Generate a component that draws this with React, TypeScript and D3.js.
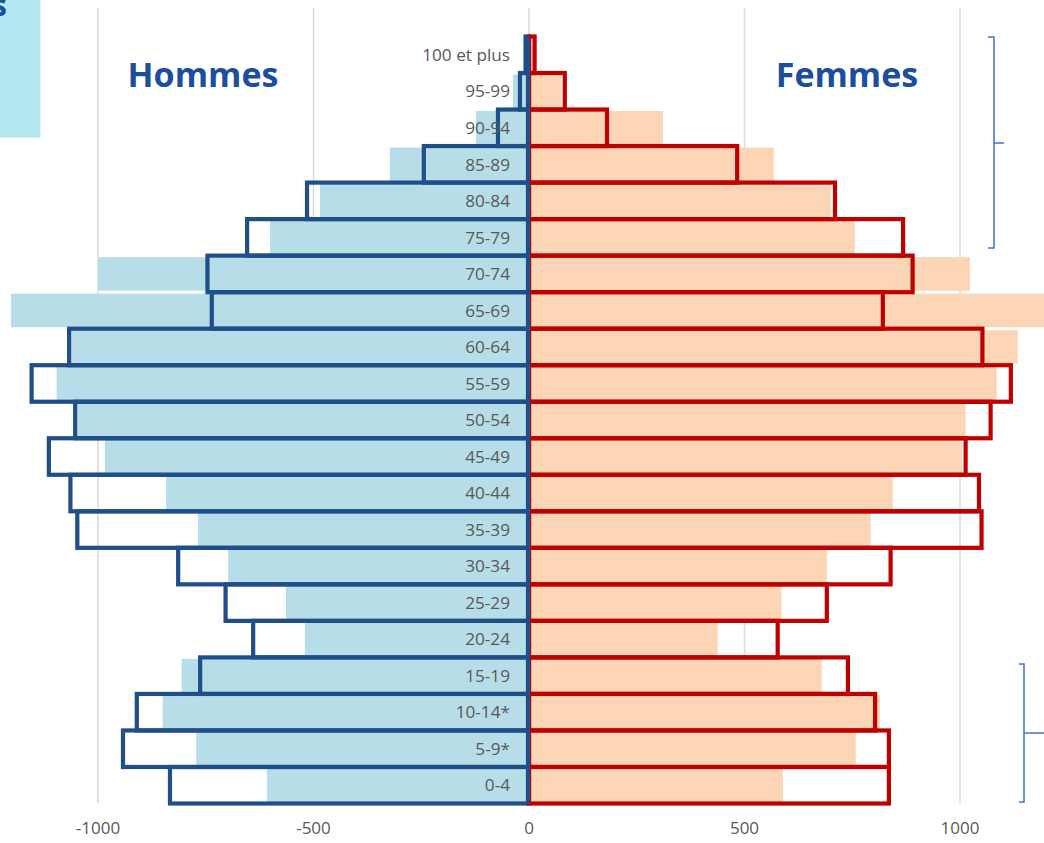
import React from "react";
import * as d3 from "d3";

// Age groups, bottom to top
const ageGroups = [
  "0-4", "5-9*", "10-14*", "15-19", "20-24", "25-29", "30-34", "35-39", "40-44",
  "45-49", "50-54", "55-59", "60-64", "65-69", "70-74", "75-79", "80-84", "85-89",
  "90-94", "95-99", "100 et plus",
];

// Men – outlined bars (dark blue)
const menOutline = [833, 942, 910, 763, 640, 704, 814, 1048, 1064, 1114, 1053, 1154, 1067, 736, 746, 654, 515, 244, 72, 21, 8];
// Men – filled bars (light blue)
const menFill = [608, 772, 850, 806, 520, 564, 698, 768, 842, 984, 1048, 1096, 1062, 1202, 1000, 601, 485, 323, 123, 37, 4];
// Women – outlined bars (red)
const womenOutline = [835, 835, 803, 740, 577, 691, 839, 1050, 1044, 1013, 1071, 1118, 1052, 821, 890, 868, 710, 483, 181, 83, 13];
// Women – filled bars (peach)
const womenFill = [589, 758, 814, 679, 438, 586, 691, 793, 844, 1005, 1013, 1085, 1134, 1215, 1023, 756, 700, 568, 311, 75, 8];

const xTicks = [-1000, -500, 0, 500, 1000];

const W = 1044;
const H = 843;

export default function App() {
  const x = d3.scaleLinear().domain([-1000, 1000]).range([98, 960]);
  const topDown = [...ageGroups].reverse();
  const y = d3.scaleBand<string>().domain(topDown).range([36.5, 803.5]).padding(0);
  const bw = y.bandwidth();
  const x0 = x(0);

  const font = "'Open Sans', sans-serif";
  const blue = "#1F4E89";
  const red = "#C00000";
  const bracket = "#4472C4";

  return (
    <svg
      width={W}
      height={H}
      style={{ position: "absolute", left: 0, top: 0, background: "#fff" }}
    >
      <rect x={0} y={0} width={W} height={H} fill="#fff" />
      {/* top-left cyan box */}
      <rect x={0} y={0} width={40.5} height={137.5} fill="#B4E7EF" />
      <text x={7} y={16} textAnchor="end" fontFamily={font} fontWeight={700} fontSize={30} fill="#1C4E9C">s</text>

      {/* grid lines */}
      {xTicks.map((t) => (
        <line key={"g" + t} x1={x(t)} x2={x(t)} y1={8} y2={803} stroke="#D9D9D9" strokeWidth={1.5} />
      ))}

      {/* filled bars */}
      {ageGroups.map((a, i) => (
        <g key={"f" + a}>
          <rect x={x(-menFill[i])} y={(y(a) as number) + 1.5} width={x0 - x(-menFill[i])} height={bw - 3} fill="#B7DDE8" />
          <rect x={x0} y={(y(a) as number) + 1.5} width={x(womenFill[i]) - x0} height={bw - 3} fill="#FBD5B5" />
        </g>
      ))}

      {/* outlined bars */}
      {ageGroups.map((a, i) => (
        <g key={"o" + a}>
          <rect x={x(-menOutline[i])} y={y(a) as number} width={x0 - x(-menOutline[i])} height={bw} fill="none" stroke={blue} strokeWidth={4.2} />
          <rect x={x0} y={y(a) as number} width={x(womenOutline[i]) - x0} height={bw} fill="none" stroke={red} strokeWidth={4.2} />
        </g>
      ))}
      {/* central axis line */}
      <line x1={x0 - 1} x2={x0 - 1} y1={36.5} y2={803.5} stroke={blue} strokeWidth={4.2} />

      {/* age labels */}
      {ageGroups.map((a) => (
        <text key={"l" + a} x={510} y={(y(a) as number) + bw / 2} dy="0.36em" textAnchor="end" fontFamily={font} fontSize={17.2} fill="#595959">
          {a}
        </text>
      ))}

      {/* x tick labels */}
      {xTicks.map((t) => (
        <text key={"t" + t} x={x(t)} y={834} textAnchor="middle" fontFamily={font} fontSize={17} fill="#595959">
          {t}
        </text>
      ))}

      {/* titles */}
      <text x={203} y={87} textAnchor="middle" fontFamily={font} fontWeight={700} fontSize={34} fill="#1C4E9C">Hommes</text>
      <text x={847} y={87} textAnchor="middle" fontFamily={font} fontWeight={700} fontSize={34} fill="#1C4E9C">Femmes</text>

      {/* brackets */}
      <path d="M988,37 L994,37 L994,248 L988,248 M994,143 L1004,143" fill="none" stroke={bracket} strokeWidth={1.5} />
      <path d="M1019,664 L1024,664 L1024,802 L1019,802 M1024,733 L1044,733" fill="none" stroke={bracket} strokeWidth={1.5} />
    </svg>
  );
}
